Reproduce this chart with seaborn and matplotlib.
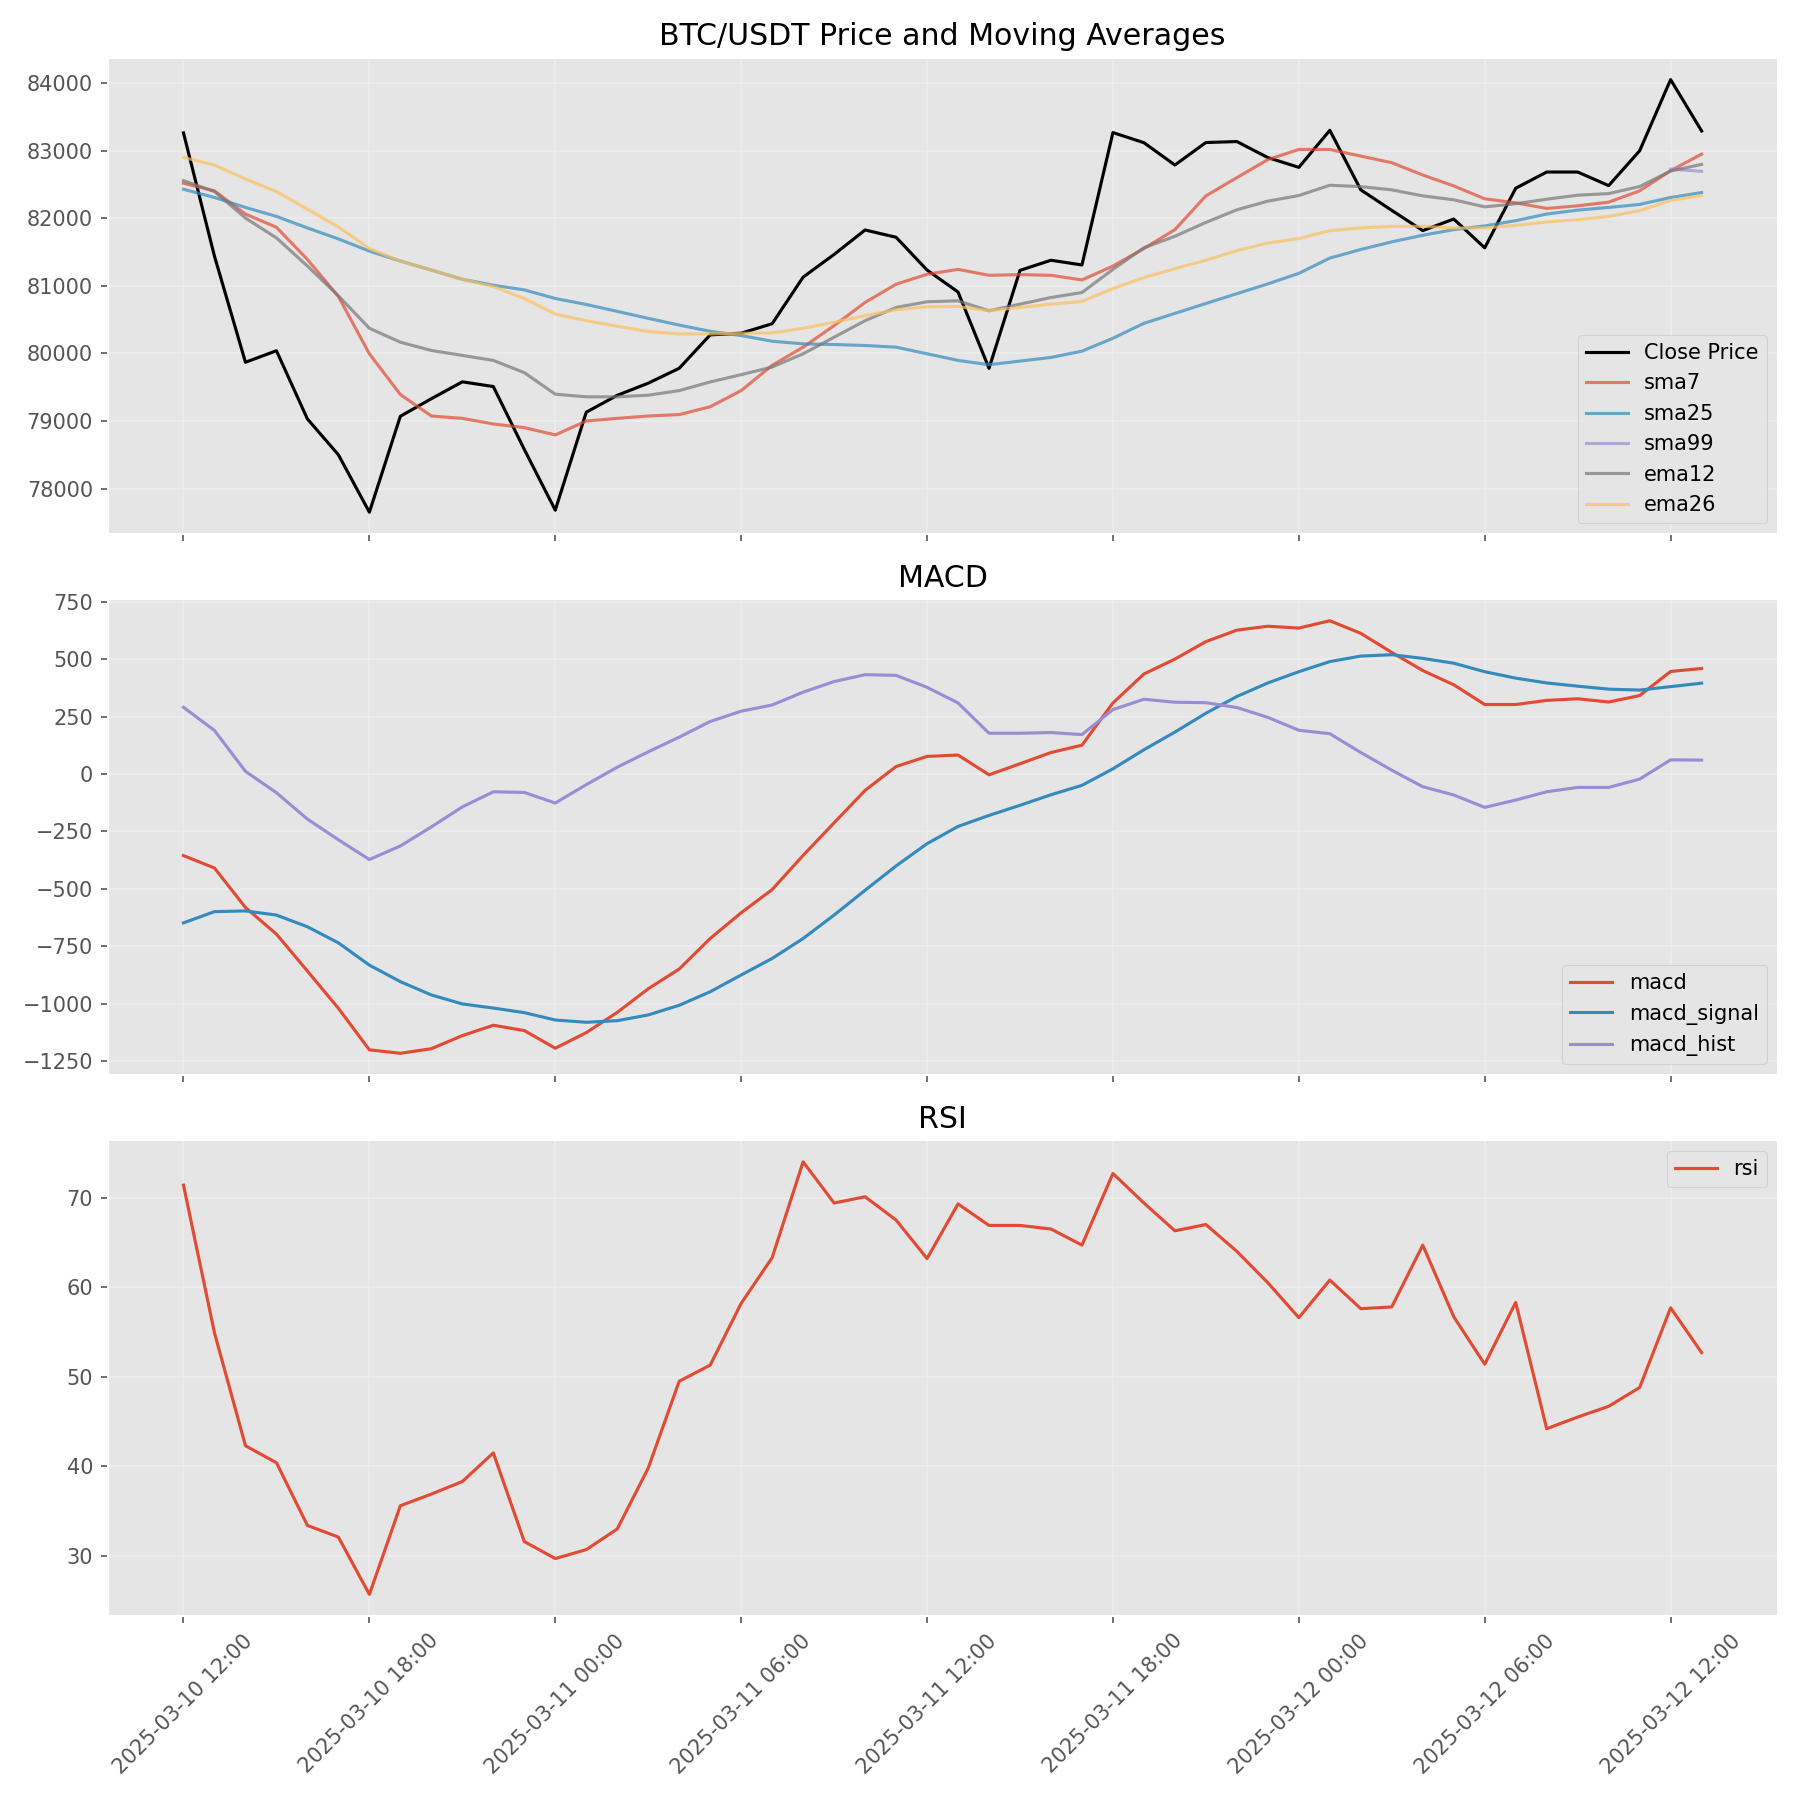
import numpy as np
import pandas as pd
import matplotlib
matplotlib.use("Agg")
import matplotlib.pyplot as plt
import matplotlib.dates as mdates
import seaborn as sns

start = "2025-03-10 12:00"
n_points = 50

close = [83265, 81440, 79870, 80040, 79030, 78500, 77650, 79070, 79330, 79580,
         79510, 78580, 77680, 79130, 79380, 79560, 79780, 80275, 80300, 80440,
         81130, 81466, 81828, 81720, 81235, 80910, 79780, 81230, 81380, 81310,
         83270, 83120, 82790, 83123, 83137, 82900, 82755, 83304, 82422, 82118,
         81819, 81990, 81564, 82446, 82686, 82686, 82485, 83000, 84054, 83294]
sma7 = [82520, 82407, 82064, 81868, 81392, 80843, 79995, 79392, 79074, 79039,
        78956, 78902, 78794, 79000, 79039, 79074, 79095, 79211, 79450, 79824,
        80093, 80412, 80755, 81025, 81172, 81245, 81157, 81167, 81157, 81088,
        81294, 81554, 81833, 82333, 82603, 82870, 83020, 83020, 82922, 82824,
        82642, 82480, 82290, 82230, 82147, 82186, 82240, 82407, 82706, 82951]
sma25 = [82431, 82309, 82162, 82029, 81858, 81696, 81515, 81368, 81235, 81098,
         81010, 80941, 80814, 80725, 80623, 80520, 80420, 80328, 80265, 80181,
         80142, 80132, 80118, 80093, 79995, 79897, 79833, 79887, 79941, 80034,
         80225, 80446, 80593, 80740, 80885, 81030, 81186, 81412, 81539, 81652,
         81750, 81833, 81888, 81966, 82064, 82122, 82162, 82206, 82309, 82382]
sma99 = [np.nan] * 48 + [82730, 82696]
ema12 = [82559, 82397, 82005, 81711, 81294, 80853, 80373, 80167, 80044, 79971,
         79897, 79716, 79397, 79358, 79358, 79382, 79450, 79578, 79686, 79799,
         79995, 80240, 80485, 80681, 80765, 80779, 80632, 80730, 80828, 80902,
         81245, 81564, 81735, 81940, 82127, 82255, 82338, 82490, 82470, 82422,
         82333, 82275, 82170, 82216, 82284, 82343, 82367, 82471, 82701, 82799]
ema26 = [82902, 82789, 82583, 82397, 82137, 81873, 81554, 81368, 81235, 81098,
         80990, 80814, 80583, 80485, 80402, 80324, 80289, 80289, 80299, 80304,
         80373, 80461, 80559, 80647, 80691, 80696, 80632, 80681, 80730, 80770,
         80961, 81123, 81255, 81380, 81522, 81635, 81701, 81819, 81858, 81882,
         81882, 81858, 81858, 81897, 81946, 81980, 82029, 82113, 82265, 82338]

macd = [-355, -409, -581, -697, -858, -1020, -1201, -1216, -1196, -1139,
        -1094, -1117, -1194, -1126, -1038, -935, -849, -716, -604, -503,
        -354, -212, -71, 33, 77, 83, -3, 45, 94, 126,
        310, 436, 501, 577, 627, 644, 636, 668, 613, 530,
        451, 389, 303, 303, 321, 328, 314, 342, 447, 460]
macd_signal = [-648, -599, -596, -614, -665, -735, -832, -904, -962, -1001,
               -1019, -1039, -1071, -1081, -1074, -1049, -1007, -948, -875, -803,
               -716, -614, -506, -400, -303, -228, -180, -136, -90, -49,
               23, 106, 183, 265, 338, 397, 446, 490, 514, 520,
               504, 483, 446, 418, 397, 383, 370, 366, 381, 396]
macd_hist = [291, 190, 12, -81, -196, -286, -372, -313, -230, -143,
             -77, -80, -126, -46, 30, 97, 161, 229, 274, 301,
             357, 403, 433, 430, 378, 310, 178, 178, 181, 172,
             281, 326, 313, 311, 290, 247, 191, 176, 94, 17,
             -55, -91, -145, -113, -77, -58, -58, -22, 62, 61]
rsi = [71.4, 54.9, 42.3, 40.4, 33.4, 32.1, 25.7, 35.6, 36.9, 38.3,
       41.5, 31.6, 29.7, 30.7, 33.0, 39.8, 49.5, 51.3, 58.2, 63.3,
       74.0, 69.4, 70.1, 67.5, 63.2, 69.3, 66.9, 66.9, 66.5, 64.7,
       72.7, 69.4, 66.3, 67.0, 64.0, 60.5, 56.6, 60.8, 57.6, 57.8,
       64.7, 56.7, 51.4, 58.3, 44.2, 45.5, 46.7, 48.8, 57.7, 52.7]

times = pd.date_range(start=start, periods=n_points, freq="h")
df = pd.DataFrame({
    "time": times, "close": close, "sma7": sma7, "sma25": sma25, "sma99": sma99,
    "ema12": ema12, "ema26": ema26, "macd": macd, "macd_signal": macd_signal,
    "macd_hist": macd_hist, "rsi": rsi,
})

plt.style.use("ggplot")

fig, axes = plt.subplots(3, 1, figsize=(12, 12), dpi=150, sharex=True)
ax1, ax2, ax3 = axes

sns.lineplot(data=df, x="time", y="close", ax=ax1, color="black", label="Close Price")
ma_specs = [("sma7", "#E24A33"), ("sma25", "#348ABD"), ("sma99", "#988ED5"),
            ("ema12", "#777777"), ("ema26", "#FBC15E")]
for col, colr in ma_specs:
    sns.lineplot(data=df, x="time", y=col, ax=ax1, color=colr, alpha=0.7, label=col)
ax1.set_title("BTC/USDT Price and Moving Averages")
ax1.legend(loc="lower right")

for col, colr in [("macd", "#E24A33"), ("macd_signal", "#348ABD"), ("macd_hist", "#988ED5")]:
    sns.lineplot(data=df, x="time", y=col, ax=ax2, color=colr, label=col)
ax2.set_title("MACD")
ax2.legend(loc="lower right")

sns.lineplot(data=df, x="time", y="rsi", ax=ax3, color="#E24A33", label="rsi")
ax3.set_title("RSI")
ax3.legend(loc="upper right")

for ax in axes:
    ax.set_xlabel("")
    ax.set_ylabel("")
    ax.grid(True, alpha=0.3)

ax3.xaxis.set_major_locator(mdates.HourLocator(byhour=[0, 6, 12, 18]))
ax3.xaxis.set_major_formatter(mdates.DateFormatter("%Y-%m-%d %H:%M"))
plt.setp(ax3.get_xticklabels(), rotation=45)

fig.tight_layout()
fig.savefig("out.png", dpi=150)
